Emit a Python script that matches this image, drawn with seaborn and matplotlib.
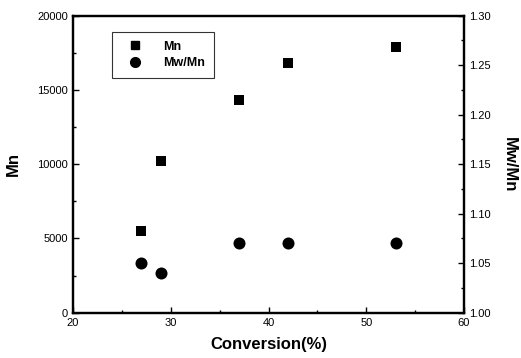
import matplotlib
matplotlib.use("Agg")
import matplotlib.pyplot as plt
import seaborn as sns
import pandas as pd
from matplotlib.lines import Line2D
from matplotlib.ticker import MultipleLocator

conversion = [27, 29, 37, 42, 53]
mn = [5500, 10200, 14300, 16800, 17900]
pdi = [1.05, 1.04, 1.07, 1.07, 1.07]

sns.set_style("ticks")
plt.rcParams['font.family'] = ['Liberation Sans', 'DejaVu Sans']
plt.rcParams['text.color'] = 'black'
plt.rcParams['axes.labelcolor'] = 'black'
plt.rcParams['xtick.color'] = 'black'
plt.rcParams['ytick.color'] = 'black'

df = pd.DataFrame({"conv": conversion, "mn": mn, "pdi": pdi})

fig = plt.figure(figsize=(5.21, 3.58), dpi=100)
ax = fig.add_axes([73/521, 1-312.7/358, (464-73)/521, (312.7-15.7)/358])
ax2 = ax.twinx()

sns.scatterplot(data=df, x="conv", y="mn", ax=ax, marker="s", s=55, color="black",
                edgecolor="black", linewidth=0)
sns.scatterplot(data=df, x="conv", y="pdi", ax=ax2, marker="o", s=75, color="black",
                edgecolor="black", linewidth=0)

ax.set_xlim(20, 60)
ax.set_ylim(0, 20000)
ax2.set_ylim(1.00, 1.30)
ax.xaxis.set_major_locator(MultipleLocator(10))
ax.xaxis.set_minor_locator(MultipleLocator(5))
ax.yaxis.set_major_locator(MultipleLocator(5000))
ax.yaxis.set_minor_locator(MultipleLocator(2500))
ax2.yaxis.set_major_locator(MultipleLocator(0.05))
ax2.yaxis.set_minor_locator(MultipleLocator(0.025))
ax2.yaxis.set_major_formatter(matplotlib.ticker.FormatStrFormatter('%.2f'))

for a in (ax, ax2):
    for sp in a.spines.values():
        sp.set_visible(True)
        sp.set_linewidth(1.6)
        sp.set_color("black")
    a.tick_params(which="both", direction="in", labelsize=8, width=1.0, colors="black")
    a.tick_params(which="major", length=4)
    a.tick_params(which="minor", length=2)

ax.set_xlabel("Conversion(%)", fontsize=12, fontweight="bold", labelpad=7, color="black")
ax.set_ylabel("Mn", fontsize=12, fontweight="bold", labelpad=12, color="black")
ax2.set_ylabel("Mw/Mn", fontsize=12, fontweight="bold", rotation=-90, labelpad=19, color="black")

handles = [Line2D([], [], marker="s", color="black", linestyle="None", markersize=6),
           Line2D([], [], marker="o", color="black", linestyle="None", markersize=7)]
leg = ax.legend(handles, ["Mn", "Mw/Mn"], loc="upper left", bbox_to_anchor=(0.1, 0.945),
                frameon=True, fancybox=False, edgecolor="black",
                prop={"weight": "bold", "size": 9}, borderpad=0.7, labelspacing=0.35,
                handletextpad=1.2, borderaxespad=0, handlelength=2.2)
leg.get_frame().set_linewidth(0.8)
for t in leg.get_texts():
    t.set_color("black")

fig.savefig("out.png", dpi=100)
